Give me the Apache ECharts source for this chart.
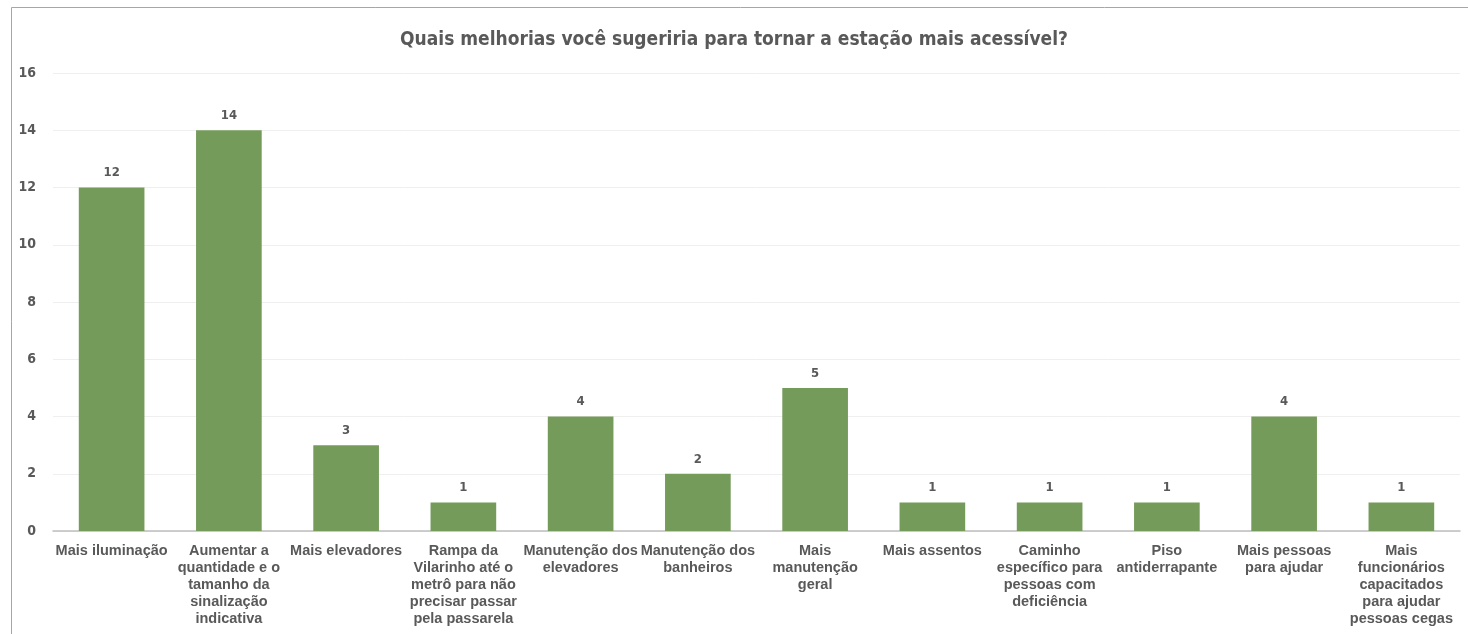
<!DOCTYPE html>
<html>
<head>
<meta charset="utf-8">
<script src="https://cdn.jsdelivr.net/npm/echarts@6/dist/echarts.min.js"></script>
<style>
  html, body { margin: 0; padding: 0; background: #fff; overflow: hidden; }
  #main { width: 1468px; height: 634px; }
</style>
</head>
<body>
<div id="main"></div>
<script>
// categorias (quebras de linha como no original)
var categorias = [
  'Mais iluminação',
  'Aumentar a\nquantidade e o\ntamanho da\nsinalização\nindicativa',
  'Mais elevadores',
  'Rampa da\nVilarinho até o\nmetrô para não\nprecisar passar\npela passarela',
  'Manutenção dos\nelevadores',
  'Manutenção dos\nbanheiros',
  'Mais\nmanutenção\ngeral',
  'Mais assentos',
  'Caminho\nespecífico para\npessoas com\ndeficiência',
  'Piso\nantiderrapante',
  'Mais pessoas\npara ajudar',
  'Mais\nfuncionários\ncapacitados\npara ajudar\npessoas cegas'
];
var respostas = [12, 14, 3, 1, 4, 2, 5, 1, 1, 1, 4, 1];
var titulo = 'Quais melhorias você sugeriria para tornar a estação mais acessível?';

var condensada = '"DejaVu Sans Condensed", "DejaVu Sans", sans-serif';

var myChart = echarts.init(document.getElementById('main'));

var option = {
  animation: false,
  backgroundColor: '#fff',
  title: {
    text: titulo,
    left: 'center',
    top: 26,
    textStyle: {
      fontFamily: condensada,
      fontWeight: 'bold',
      fontSize: 19,
      color: '#595959'
    }
  },
  graphic: [{
    type: 'rect',
    shape: { x: 11.5, y: 7.5, width: 1500, height: 700 },
    style: { fill: 'none', stroke: '#a6a6a6', lineWidth: 1 },
    silent: true
  }],
  grid: {
    left: 53,
    right: 8,
    top: 73,
    bottom: 103
  },
  xAxis: {
    type: 'category',
    data: categorias,
    axisTick: { show: false },
    axisLine: { lineStyle: { color: '#bfbfbf', width: 1.5 } },
    axisLabel: {
      interval: 0,
      margin: 11,
      fontFamily: '"Liberation Sans", Arial, sans-serif',
      fontWeight: 'bold',
      fontSize: 14.5,
      lineHeight: 17,
      color: '#595959'
    }
  },
  yAxis: {
    type: 'value',
    min: 0,
    max: 16,
    interval: 2,
    axisLine: { show: false },
    axisTick: { show: false },
    splitLine: { lineStyle: { color: '#efefef', width: 1 } },
    axisLabel: {
      margin: 17,
      fontFamily: condensada,
      fontWeight: 'bold',
      fontSize: 14,
      color: '#595959'
    }
  },
  series: [{
    type: 'bar',
    data: respostas,
    barWidth: '56%',
    itemStyle: { color: '#759b5a' },
    label: {
      show: true,
      position: 'top',
      distance: 8,
      fontFamily: condensada,
      fontWeight: 'bold',
      fontSize: 13,
      color: '#595959'
    }
  }]
};

myChart.setOption(option);
</script>
</body>
</html>
